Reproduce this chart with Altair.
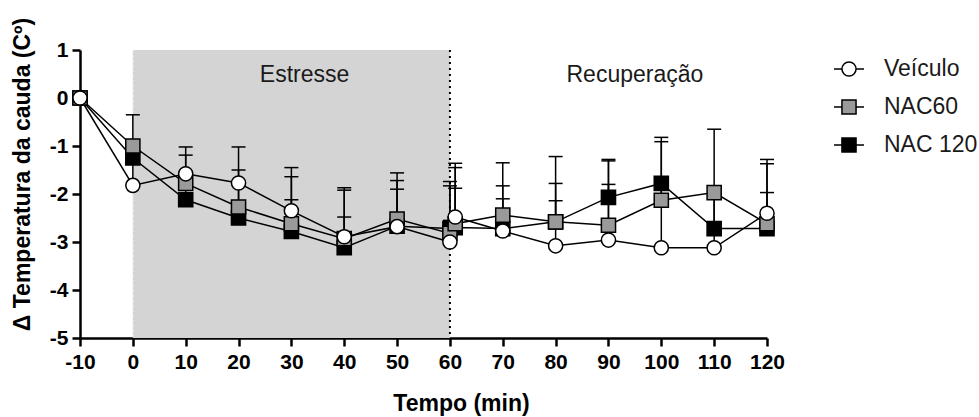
import altair as alt
import pandas as pd

# Time points (min); 60 and 61 are the end of stress and the first recovery reading
times = [-10, 0, 10, 20, 30, 40, 50, 60, 61, 70, 80, 90, 100, 110, 120]

# Mean change in tail temperature and the top of each (upward) error bar
veiculo_mean = [0, -1.82, -1.58, -1.77, -2.35, -2.89, -2.68, -3.00, -2.48, -2.77, -3.08, -2.96, -3.12, -3.12, -2.40]
veiculo_top = [0, -1.05, -1.19, -1.50, -2.12, -2.48, -1.90, -2.55, -1.88, -2.10, -2.14, -1.80, -0.91, -2.00, -1.97]

nac60_mean = [0, -1.00, -1.78, -2.27, -2.62, -2.93, -2.52, -2.82, -2.62, -2.44, -2.58, -2.65, -2.13, -1.97, -2.62]
nac60_top = [0, -0.35, -1.02, -1.02, -1.45, -1.87, -1.56, -1.74, -1.36, -1.35, -1.22, -1.31, -1.85, -0.65, -1.28]

nac120_mean = [0, -1.25, -2.12, -2.50, -2.78, -3.12, -2.67, -2.72, -2.70, -2.72, -2.58, -2.07, -1.78, -2.72, -2.72]
nac120_top = [0, -0.95, -1.65, -1.80, -1.64, -1.92, -1.72, -1.83, -1.45, -1.83, -1.78, -1.28, -0.82, -1.95, -1.37]

groups = ["Veículo", "NAC60", "NAC 120"]
group_fill = ["white", "#9a9a9a", "black"]

# Phases of the protocol
phase_start = [0]
phase_end = [60]
phase_labels = ["Estresse", "Recuperação"]
phase_label_t = [32.5, 95]
phase_label_y = [0.47, 0.47]

# Long table; drawn NAC 120 first so Veículo sits on top
rows = []
for name, means, tops in [("NAC 120", nac120_mean, nac120_top),
                          ("NAC60", nac60_mean, nac60_top),
                          ("Veículo", veiculo_mean, veiculo_top)]:
    for t, m, u in zip(times, means, tops):
        rows.append({"serie": name, "t": t, "media": m, "topo": u})
df = pd.DataFrame(rows)
errs = df[df["topo"] != df["media"]]

phase_df = pd.DataFrame({"ini": phase_start, "fim": phase_end})
label_df = pd.DataFrame({"t": phase_label_t, "media": phase_label_y, "rotulo": phase_labels})
divider_df = pd.DataFrame({"t": phase_end})
edge_df = pd.DataFrame({"t": phase_start})

FONT = "Liberation Sans"

x_scale = alt.Scale(domain=[-10, 120], nice=False, zero=False)
y_scale = alt.Scale(domain=[-5, 1], nice=False, zero=False)
x_axis = alt.Axis(values=list(range(-10, 121, 10)), title="Tempo (min)",
                  labelExpr="'' + datum.value", labelFlush=False, labelOverlap=False,
                  labelPadding=5, titleX=381, titleY=65, titleBaseline="middle",
                  titleAlign="center")
y_axis = alt.Axis(values=list(range(-5, 2)), title="Δ Temperatura da cauda (Cº)",
                  labelExpr="'' + datum.value", labelFlush=False, labelOverlap=False,
                  labelPadding=4, titleX=-58, titleY=124, titleAngle=270,
                  titleBaseline="middle", titleAlign="center")

X = lambda f: alt.X(f, type="quantitative", scale=x_scale, axis=x_axis)
Y = lambda f: alt.Y(f, type="quantitative", scale=y_scale, axis=y_axis)

shade = alt.Chart(phase_df).mark_rect(color="#d4d4d4").encode(
    x=X("ini"), x2="fim", y=alt.datum(-5, scale=y_scale), y2=alt.datum(1)
)

edge = alt.Chart(edge_df).mark_rule(color="#f2f2f2", strokeDash=[2, 3], strokeWidth=1.5).encode(
    x=X("t")
)

divider = alt.Chart(divider_df).mark_rule(color="black", strokeDash=[2, 4], strokeWidth=2).encode(
    x=X("t")
)

labels = alt.Chart(label_df).mark_text(font=FONT, fontSize=23, color="#1a1a1a").encode(
    x=X("t"), y=Y("media"), text="rotulo:N"
)

lines = alt.Chart(df).mark_line(color="black", strokeWidth=1.5).encode(
    x=X("t"), y=Y("media"), detail="serie:N"
)

err_rules = alt.Chart(errs).mark_rule(color="black", strokeWidth=1.5).encode(
    x=X("t"), y=Y("media"), y2="topo"
)

err_caps = alt.Chart(errs).mark_point(shape="M-1,0L1,0", size=196, filled=False,
                                      color="black", strokeWidth=1.5, opacity=1).encode(
    x=X("t"), y=Y("topo")
)

points = alt.Chart(df).mark_point(filled=True, size=200, stroke="black",
                                  strokeWidth=1.5, opacity=1).encode(
    x=X("t"), y=Y("media"),
    shape=alt.Shape("serie:N", scale=alt.Scale(domain=groups, range=["circle", "square", "square"]),
                    legend=None),
    fill=alt.Fill("serie:N", scale=alt.Scale(domain=groups, range=group_fill), legend=None),
)

# Legend symbols: marker with short line stubs on both sides
circ_path = "M-1,0H-0.47M0.47,0H1M-0.47,0A0.47,0.47,0,1,0,0.47,0A0.47,0.47,0,1,0,-0.47,0Z"
sq_path = "M-1,0H-0.47M0.47,0H1M-0.47,-0.47H0.47V0.47H-0.47Z"

leg = alt.Legend(orient="none", legendX=753, legendY=3, title=None, padding=0,
                 labelFont=FONT, labelFontSize=23, labelColor="#1a1a1a", labelOffset=19,
                 labelLimit=300, rowPadding=10, symbolSize=900, symbolStrokeColor="black",
                 symbolStrokeWidth=1.5, symbolOpacity=1)

legend_layer = alt.Chart(df).mark_point(filled=True, size=900, stroke="black",
                                        strokeWidth=1.5, opacity=1).transform_filter(
    "datum.t < -1000"
).encode(
    x=X("t"), y=Y("media"),
    shape=alt.Shape("serie:N", scale=alt.Scale(domain=groups, range=[circ_path, sq_path, sq_path]),
                    legend=leg),
    fill=alt.Fill("serie:N", scale=alt.Scale(domain=groups, range=group_fill), legend=leg),
    stroke=alt.Stroke("serie:N", scale=alt.Scale(domain=groups, range=["black", "black", "black"]),
                      legend=leg),
)

chart = alt.layer(
    shade, edge, divider, labels, lines, err_rules, err_caps, points, legend_layer
).resolve_scale(
    shape="independent", fill="independent", stroke="independent"
).properties(
    width=687, height=288,
    padding={"left": 80, "top": 50, "right": 212, "bottom": 79},
    autosize=alt.AutoSizeParams(type="none"),
).configure_view(
    stroke=None
).configure_axis(
    grid=False,
    domainColor="black", domainWidth=2.5,
    tickColor="black", tickWidth=2.5, tickSize=8,
    labelFont=FONT, labelFontSize=21, labelFontWeight="bold", labelColor="black",
    titleFont=FONT, titleFontSize=23, titleFontWeight="bold", titleColor="black",
)

chart.save("out.html", embed_options={"renderer": "svg", "actions": False})
